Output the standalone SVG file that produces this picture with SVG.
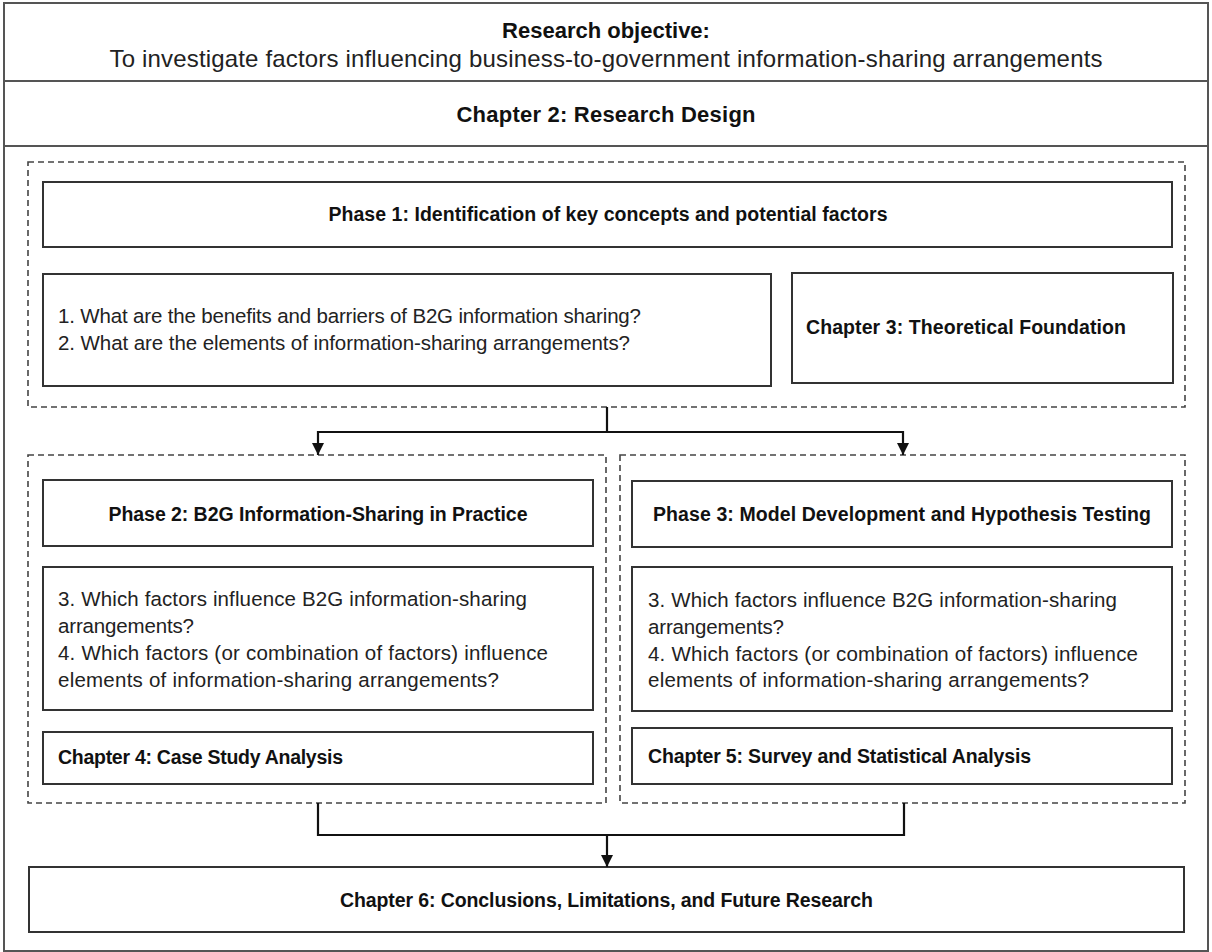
<svg xmlns="http://www.w3.org/2000/svg" width="1212" height="952" viewBox="0 0 1212 952">
  <defs>
    <style>
      .frame { fill: #ffffff; stroke: #555555; stroke-width: 2; }
      .box { fill: #ffffff; stroke: #333333; stroke-width: 2; }
      .group { fill: none; stroke: #444444; stroke-width: 1.6; stroke-dasharray: 6 4; }
      .link { fill: none; stroke: #111111; stroke-width: 2.2; }
      .t { font-family: "Liberation Sans", Arial, sans-serif; fill: #222222; font-size: 20.5px; }
      .b { font-family: "Liberation Sans", Arial, sans-serif; fill: #111111; font-weight: bold; font-size: 19.5px; }
      .big { font-size: 22px; }
      .mid { text-anchor: middle; }
    </style>
    <marker id="arrow" viewBox="0 0 10 10" refX="10" refY="5" markerWidth="12" markerHeight="12" markerUnits="userSpaceOnUse" orient="auto">
      <path d="M0,0 L10,5 L0,10 z" fill="#111111"/>
    </marker>
  </defs>

  <rect x="0" y="0" width="1212" height="952" fill="#ffffff"/>

  <!-- outer frame with the objective and chapter 2 bands -->
  <g id="frame">
    <rect class="frame" x="4" y="3" width="1204" height="948"/>
    <line x1="4" y1="81" x2="1208" y2="81" stroke="#555555" stroke-width="2"/>
    <line x1="4" y1="146" x2="1208" y2="146" stroke="#555555" stroke-width="2"/>
  </g>

  <g id="objective">
    <text class="b big mid" x="606" y="38">Research objective:</text>
    <text class="t mid" x="606" y="67" style="font-size:24px" textLength="993">To investigate factors influencing business-to-government information-sharing arrangements</text>
  </g>

  <g id="chapter2">
    <text class="b big mid" x="606" y="122" textLength="299">Chapter 2: Research Design</text>
  </g>

  <!-- dashed phase groups -->
  <g id="phase1-group">
    <rect class="group" x="28" y="162" width="1157" height="245"/>
  </g>
  <g id="phase2-group">
    <rect class="group" x="28" y="455" width="578" height="348"/>
  </g>
  <g id="phase3-group">
    <rect class="group" x="620" y="455" width="565" height="348"/>
  </g>

  <g id="phase1-title">
    <rect class="box" x="43" y="182" width="1129" height="65"/>
    <text class="b mid" x="608" y="221" textLength="559">Phase 1: Identification of key concepts and potential factors</text>
  </g>

  <g id="phase1-questions">
    <rect class="box" x="43" y="274" width="728" height="112"/>
    <text class="t" x="58" y="323" textLength="583">1. What are the benefits and barriers of B2G information sharing?</text>
    <text class="t" x="58" y="350" textLength="572">2. What are the elements of information-sharing arrangements?</text>
  </g>

  <g id="chapter3">
    <rect class="box" x="792" y="273" width="381" height="110"/>
    <text class="b" x="806" y="334" textLength="320">Chapter 3: Theoretical Foundation</text>
  </g>

  <g id="phase2-title">
    <rect class="box" x="43" y="480" width="550" height="66"/>
    <text class="b mid" x="318" y="521" textLength="419">Phase 2: B2G Information-Sharing in Practice</text>
  </g>

  <g id="phase2-questions">
    <rect class="box" x="43" y="567" width="550" height="143"/>
    <text class="t" x="58" y="606" textLength="469">3. Which factors influence B2G information-sharing</text>
    <text class="t" x="58" y="633" textLength="136">arrangements?</text>
    <text class="t" x="58" y="660" textLength="490">4. Which factors (or combination of factors) influence</text>
    <text class="t" x="58" y="687" textLength="441">elements of information-sharing arrangements?</text>
  </g>

  <g id="chapter4">
    <rect class="box" x="43" y="732" width="550" height="52"/>
    <text class="b" x="58" y="764" textLength="285">Chapter 4: Case Study Analysis</text>
  </g>

  <g id="phase3-title">
    <rect class="box" x="632" y="481" width="540" height="66"/>
    <text class="b mid" x="902" y="521" textLength="498">Phase 3: Model Development and Hypothesis Testing</text>
  </g>

  <g id="phase3-questions">
    <rect class="box" x="632" y="567" width="540" height="144"/>
    <text class="t" x="648" y="607" textLength="469">3. Which factors influence B2G information-sharing</text>
    <text class="t" x="648" y="634" textLength="136">arrangements?</text>
    <text class="t" x="648" y="661" textLength="490">4. Which factors (or combination of factors) influence</text>
    <text class="t" x="648" y="687" textLength="441">elements of information-sharing arrangements?</text>
  </g>

  <g id="chapter5">
    <rect class="box" x="632" y="728" width="540" height="56"/>
    <text class="b" x="648" y="763" textLength="383">Chapter 5: Survey and Statistical Analysis</text>
  </g>

  <g id="chapter6">
    <rect class="box" x="29" y="867" width="1155" height="65"/>
    <text class="b mid" x="606.5" y="907" textLength="533">Chapter 6: Conclusions, Limitations, and Future Research</text>
  </g>

  <!-- connectors -->
  <g id="connectors">
    <polyline class="link" points="607,407 607,432"/>
    <polyline class="link" points="607,432 318,432 318,455" marker-end="url(#arrow)"/>
    <polyline class="link" points="607,432 903,432 903,455" marker-end="url(#arrow)"/>
    <polyline class="link" points="318,803 318,835 904,835 904,803"/>
    <polyline class="link" points="607,835 607,867" marker-end="url(#arrow)"/>
  </g>
</svg>
